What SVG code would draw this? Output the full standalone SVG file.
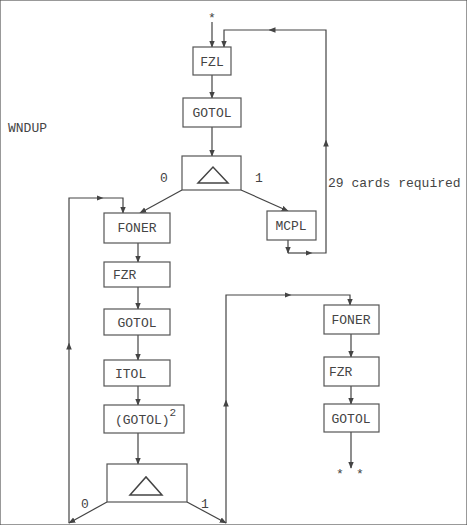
<svg xmlns="http://www.w3.org/2000/svg" width="467" height="525" viewBox="0 0 467 525">
<defs>
<marker id="ah" viewBox="0 0 10 10" refX="9" refY="5" markerWidth="7" markerHeight="7" orient="auto" markerUnits="userSpaceOnUse">
<path d="M0,1 L10,5 L0,9 Z" fill="#444"/>
</marker>
<marker id="mid" viewBox="0 0 10 10" refX="5" refY="5" markerWidth="7" markerHeight="7" orient="auto" markerUnits="userSpaceOnUse">
<path d="M0,1 L10,5 L0,9 Z" fill="#444"/>
</marker>
</defs>
<style>
rect{fill:#fff;stroke:#555;stroke-width:1.2}
text{font-family:"Liberation Mono","DejaVu Sans Mono",monospace;font-size:13px;fill:#444}
.c{text-anchor:middle}
.l{fill:none;stroke:#444;stroke-width:1.2}
.t{fill:none;stroke:#444;stroke-width:1.5}
</style>
<rect width="467" height="525" fill="#fff" stroke="none"/>
<text x="8" y="132">WNDUP</text>
<text x="328" y="187">29 cards required</text>
<text class="c" x="212" y="22">*</text>
<text class="c" x="340" y="478">*</text>
<text class="c" x="360" y="478">*</text>
<text x="160" y="182">0</text>
<text x="255" y="182">1</text>
<text x="81" y="508">0</text>
<text x="201" y="508">1</text>

<g id="connectors">
<path class="l" d="M212,22 V47" marker-end="url(#ah)"/>
<path class="l" d="M212,75 V98" marker-end="url(#ah)"/>
<path class="l" d="M212,127 V156" marker-end="url(#ah)"/>
<path class="l" d="M182,190 L140,213" marker-end="url(#ah)"/>
<path class="l" d="M241,190 L288,211" marker-end="url(#ah)"/>
<path class="l" d="M288,240 V253" marker-end="url(#ah)"/>
<path class="l" d="M288,253 H309" marker-end="url(#mid)"/>
<path class="l" d="M309,253 H326 V143" marker-end="url(#mid)"/>
<path class="l" d="M326,143 V30 H272" marker-end="url(#mid)"/>
<path class="l" d="M272,30 H224 V47" marker-end="url(#ah)"/>
<path class="l" d="M138,243 V262" marker-end="url(#ah)"/>
<path class="l" d="M138,287 V309" marker-end="url(#ah)"/>
<path class="l" d="M138,335 V360" marker-end="url(#ah)"/>
<path class="l" d="M138,386 V405" marker-end="url(#ah)"/>
<path class="l" d="M138,433 V464" marker-end="url(#ah)"/>
<path class="l" d="M107,502 L69,523" marker-end="url(#ah)"/>
<path class="l" d="M69,523 V346" marker-end="url(#mid)"/>
<path class="l" d="M69,346 V198 H100" marker-end="url(#mid)"/>
<path class="l" d="M100,198 H123 V213" marker-end="url(#ah)"/>
<path class="l" d="M187,502 L226,523" marker-end="url(#ah)"/>
<path class="l" d="M226,523 V403" marker-end="url(#mid)"/>
<path class="l" d="M226,403 V295 H288" marker-end="url(#mid)"/>
<path class="l" d="M288,295 H350 V305" marker-end="url(#ah)"/>
<path class="l" d="M351,334 V357" marker-end="url(#ah)"/>
<path class="l" d="M351,386 V404" marker-end="url(#ah)"/>
<path class="l" d="M351,432 V468" marker-end="url(#ah)"/>
</g>

<g id="fzl"><rect x="193" y="47" width="38" height="28"/><text class="c" x="212" y="66">FZL</text></g>
<g id="gotol1"><rect x="183" y="98" width="58" height="29"/><text class="c" x="212" y="117">GOTOL</text></g>
<g id="dec1"><rect x="182" y="156" width="59" height="34"/><path class="t" d="M198,183 H228 L213,167 Z"/></g>
<g id="mcpl"><rect x="267" y="211" width="49" height="29"/><text class="c" x="291" y="230">MCPL</text></g>
<g id="foner1"><rect x="104" y="213" width="66" height="30"/><text class="c" x="137" y="232">FONER</text></g>
<g id="fzr1"><rect x="104" y="262" width="66" height="25"/><text x="113" y="279">FZR</text></g>
<g id="gotol2"><rect x="104" y="309" width="66" height="26"/><text class="c" x="137" y="327">GOTOL</text></g>
<g id="itol"><rect x="104" y="360" width="66" height="26"/><text x="115" y="378">ITOL</text></g>
<g id="gotolsq"><rect x="104" y="405" width="80" height="28"/><text x="115" y="424">(GOTOL)<tspan dy="-8" font-size="11">2</tspan></text></g>
<g id="dec2"><rect x="107" y="464" width="80" height="38"/><path class="t" d="M130,495 H162 L146,477 Z"/></g>
<g id="foner2"><rect x="324" y="305" width="55" height="29"/><text class="c" x="351" y="324">FONER</text></g>
<g id="fzr2"><rect x="324" y="357" width="55" height="29"/><text x="329" y="376">FZR</text></g>
<g id="gotol3"><rect x="324" y="404" width="55" height="28"/><text class="c" x="351" y="423">GOTOL</text></g>
</svg>
